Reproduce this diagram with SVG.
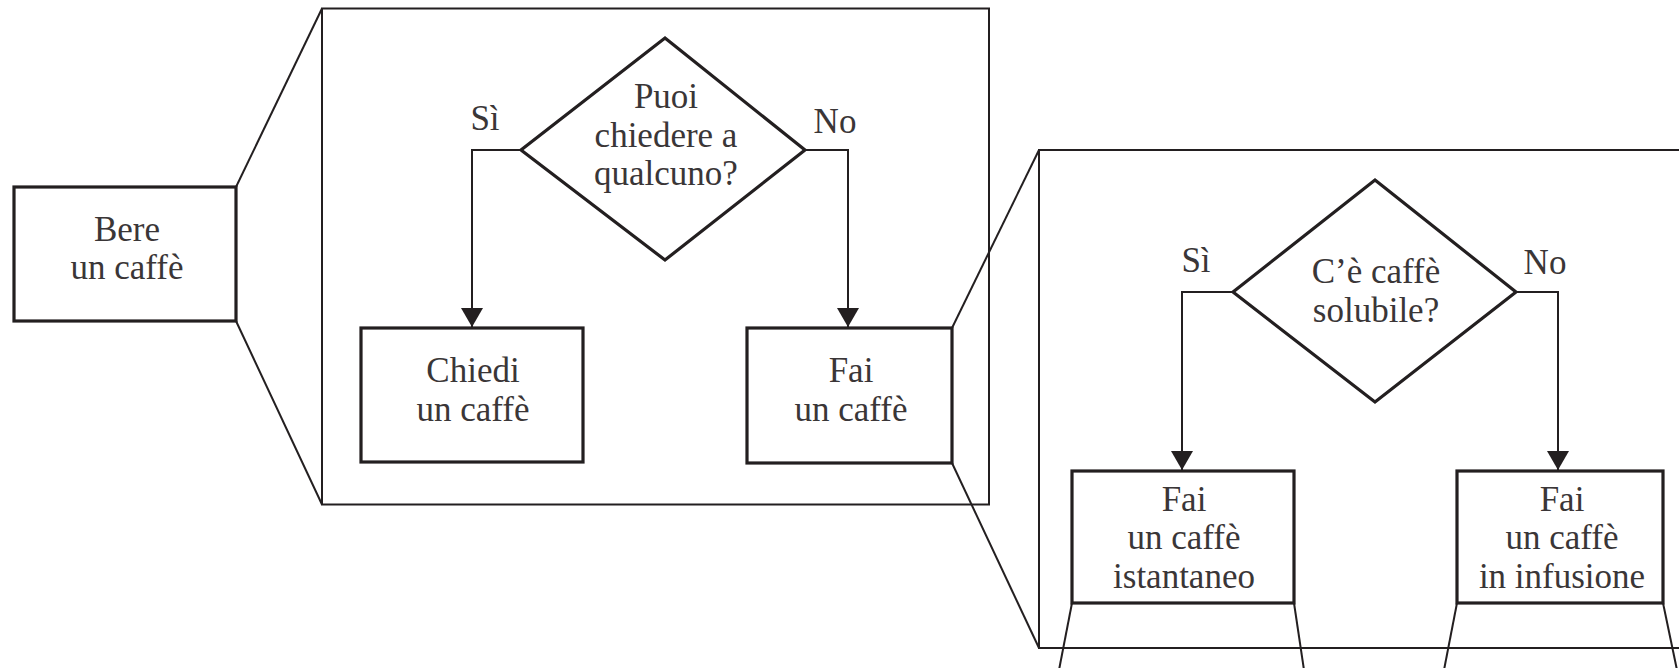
<svg xmlns="http://www.w3.org/2000/svg" width="1679" height="668" viewBox="0 0 1679 668">
<defs>
<style>
.box{fill:#fff;stroke:#231f20;stroke-width:3.2}
.frame{fill:none;stroke:#231f20;stroke-width:2}
.zoom{fill:none;stroke:#231f20;stroke-width:2}
.conn{fill:none;stroke:#231f20;stroke-width:2}
.t{font-family:"Liberation Serif","Times New Roman",serif;font-size:35px;fill:#3a3637;text-anchor:middle}
</style>
<marker id="arr" viewBox="0 0 19 22" refX="19" refY="11" markerWidth="19" markerHeight="22" markerUnits="userSpaceOnUse" orient="auto">
<path d="M0,0 L19,11 L0,22 Z" fill="#231f20"/>
</marker>
</defs>
<rect width="1679" height="668" fill="#fff"/>
<g id="frames">
<rect class="frame" x="322" y="8.5" width="667" height="496"/>
<rect class="frame" x="1039" y="150" width="700" height="498"/>
</g>
<g id="zoom-lines">
<line class="zoom" x1="236" y1="187" x2="322" y2="8.5"/>
<line class="zoom" x1="236" y1="321" x2="322" y2="504.5"/>
<line class="zoom" x1="952" y1="328" x2="1039" y2="150"/>
<line class="zoom" x1="952" y1="463" x2="1039" y2="648"/>
<line class="zoom" x1="1072" y1="603" x2="1059" y2="670"/>
<line class="zoom" x1="1294" y1="603" x2="1304" y2="670"/>
<line class="zoom" x1="1457" y1="603" x2="1444" y2="670"/>
<line class="zoom" x1="1663" y1="603" x2="1677" y2="670"/>
</g>
<g id="connectors">
<polyline class="conn" points="521,150 472,150 472,327" marker-end="url(#arr)"/>
<polyline class="conn" points="805,150 848,150 848,327" marker-end="url(#arr)"/>
<polyline class="conn" points="1233,292 1182,292 1182,470" marker-end="url(#arr)"/>
<polyline class="conn" points="1516,292 1558,292 1558,470" marker-end="url(#arr)"/>
</g>
<g id="node-bere">
<rect class="box" x="14" y="187" width="222" height="134"/>
<text class="t" x="127" y="241">Bere</text>
<text class="t" x="127" y="279">un caffè</text>
</g>
<g id="node-puoi">
<polygon class="box" points="665,38 805,150 665,260 521,150"/>
<text class="t" x="666" y="108">Puoi</text>
<text class="t" x="666" y="147">chiedere a</text>
<text class="t" x="666" y="185">qualcuno?</text>
</g>
<g id="label-si-1"><text class="t" x="485" y="130">Sì</text></g>
<g id="label-no-1"><text class="t" x="835" y="133">No</text></g>
<g id="node-chiedi">
<rect class="box" x="361" y="328" width="222" height="134"/>
<text class="t" x="473" y="382">Chiedi</text>
<text class="t" x="473" y="421">un caffè</text>
</g>
<g id="node-fai">
<rect class="box" x="747" y="328" width="205" height="135"/>
<text class="t" x="851" y="382">Fai</text>
<text class="t" x="851" y="421">un caffè</text>
</g>
<g id="node-solubile">
<polygon class="box" points="1375,180 1516,292 1375,402 1233,292"/>
<text class="t" x="1376" y="283">C’è caffè</text>
<text class="t" x="1376" y="322">solubile?</text>
</g>
<g id="label-si-2"><text class="t" x="1196" y="272">Sì</text></g>
<g id="label-no-2"><text class="t" x="1545" y="274">No</text></g>
<g id="node-istantaneo">
<rect class="box" x="1072" y="471" width="222" height="132"/>
<text class="t" x="1184" y="511">Fai</text>
<text class="t" x="1184" y="549">un caffè</text>
<text class="t" x="1184" y="588">istantaneo</text>
</g>
<g id="node-infusione">
<rect class="box" x="1457" y="471" width="206" height="132"/>
<text class="t" x="1562" y="511">Fai</text>
<text class="t" x="1562" y="549">un caffè</text>
<text class="t" x="1562" y="588">in infusione</text>
</g>
</svg>
